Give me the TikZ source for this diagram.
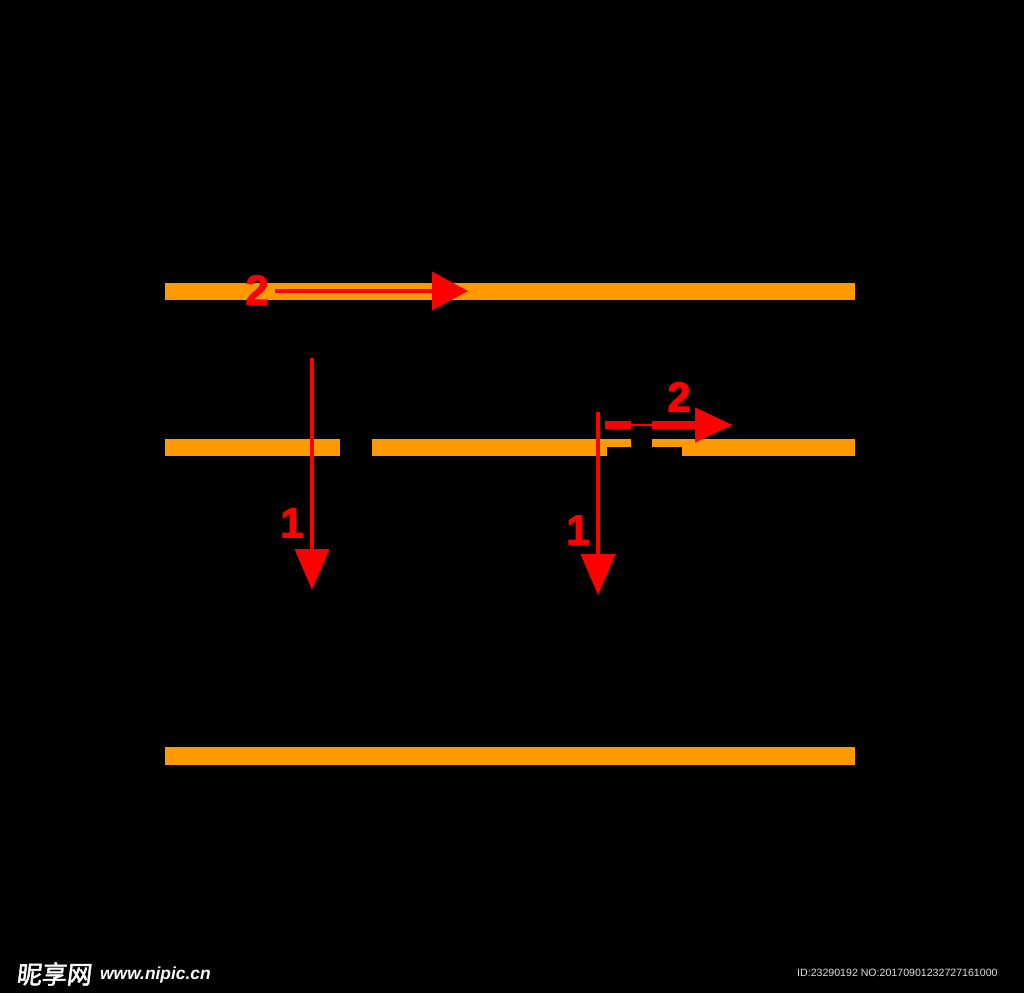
\documentclass[tikz,border=0pt]{standalone}
\usepackage{fontspec}
\setmainfont{Liberation Sans}
\newfontfamily\numfont[BoldFeatures={FakeBold=2.5}]{Liberation Sans}
\newfontfamily\cjk[FakeBold=2,FakeSlant=0.12]{Noto Sans CJK SC}
\usepackage{tikz}
\usetikzlibrary{arrows.meta}
\definecolor{barorange}{HTML}{FF9900}
\definecolor{flowred}{HTML}{FF0000}
\tikzset{
  bar/.style={draw=barorange,line width=17.5pt},
  flow/.style={draw=flowred,line width=4pt,-{Triangle[length=41pt,width=34pt]}},
  num/.style={text=flowred,inner sep=0pt,font=\numfont\bfseries\fontsize{42}{42}\selectfont}
}

\begin{document}
\begin{tikzpicture}[x=1pt,y=-1pt,line cap=butt]
% background
\fill[black] (0,0) rectangle (1024,993);
\useasboundingbox (0,0) rectangle (1024,993);
% bars
\draw[bar] (165,291.5) -- (855,291.5);
\draw[bar] (165,447.5) -- (340,447.5);
\draw[bar] (372,447.5) -- (855,447.5);
\draw[bar] (165,756) -- (855,756);
% arrow 2, right, over the cut
\coordinate (rb) at (605,425);
\coordinate (re) at (733,425);
\draw[flow,line width=8pt,-{Triangle[length=38pt,width=33pt]}] (rb) -- (re);
% cut in the middle bar
\fill[black] (631,419) rectangle (652,457);
\fill[black] (607,447) rectangle (682,457);
\draw[flowred,line width=2.5pt] (631,425) -- (652,425);
% arrow 2, top
\coordinate (tb) at (275,291);
\coordinate (te) at (468,291);
\draw[flow,-{Triangle[length=36pt,width=38pt]}] (tb) -- (te);
% arrows 1
\coordinate (la) at (312,358);
\coordinate (lb) at (312,590);
\draw[flow] (la) -- (lb);
\coordinate (ra) at (598,412);
\coordinate (rz) at (598,595);
\draw[flow] (ra) -- (rz);
% labels
\node[num] (ltwo) at (257,290) {2};
\node[num] (rtwo) at (679,397) {2};
\node[num] (lone) at (292,523) {1};
\node[num] (rone) at (578,530) {1};
% watermark
\node[anchor=west,inner sep=0pt,text=white,font=\cjk\fontsize{25}{25}\selectfont] (wmcn) at (16,974) {昵享网};
\node[anchor=west,inner sep=0pt,text=white,font=\bfseries\itshape\fontsize{17.4}{17.4}\selectfont] (wmurl) at (100,975) {www.nipic.cn};
\node[anchor=west,inner sep=0pt,text=white!88!black,font=\fontsize{10.6}{10.6}\selectfont] (wmid) at (797,973) {ID:23290192 NO:20170901232727161000};
\end{tikzpicture}
\end{document}
